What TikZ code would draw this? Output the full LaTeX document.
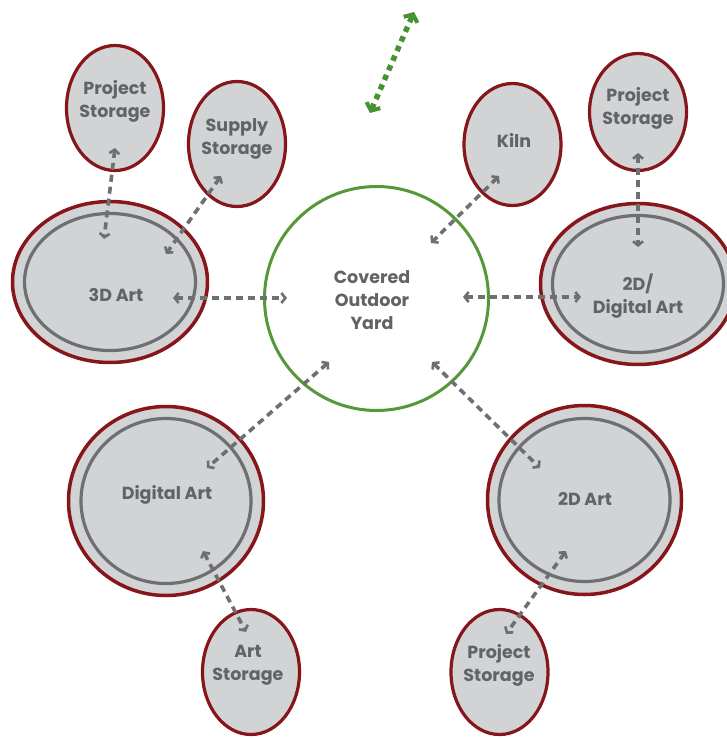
\documentclass[tikz,border=0pt]{standalone}
\usepackage{fontspec}
\setmainfont{Poppins}
\usetikzlibrary{shapes.geometric,arrows.meta}

\definecolor{roomred}{RGB}{134,22,26}
\definecolor{roomfill}{RGB}{209,211,212}
\definecolor{ringgray}{RGB}{110,111,114}
\definecolor{labelgray}{RGB}{98,99,103}
\definecolor{yardgreen}{RGB}{84,152,58}
\definecolor{flowgreen}{RGB}{72,146,52}

\tikzset{
  store/.style={ellipse, draw=roomred, line width=3.2pt, fill=roomfill,
    inner sep=0pt, minimum width=97pt, minimum height=125pt},
  room/.style={ellipse, draw=roomred, line width=3.5pt, fill=roomfill,
    inner sep=0pt},
  ring/.style={ellipse, draw=ringgray, line width=3.2pt, inner sep=0pt},
  yard/.style={circle, draw=yardgreen, line width=3pt, fill=white,
    inner sep=0pt, minimum size=224pt},
  txt/.style={text=labelgray, font=\bfseries\fontsize{17.5}{23}\selectfont,
    align=center, inner sep=0pt},
  link/.style={draw=ringgray, line width=3.6pt, dash pattern=on 7pt off 5pt,
    {Straight Barb[length=4pt,width=10pt,line width=2.6pt]}-{Straight Barb[length=4pt,width=10pt,line width=2.6pt]}},
  flow/.style={draw=flowgreen, line width=5.5pt, dash pattern=on 5.5pt off 5pt,
    {Straight Barb[length=6pt,width=15pt,line width=4pt]}-{Straight Barb[length=6pt,width=15pt,line width=4pt]}}
}

\begin{document}
\begin{tikzpicture}[x=1pt,y=-1pt]
\useasboundingbox (0,0) rectangle (727,738);

% central yard
\node[yard] (yardc) at (376.5,298.5) {};
\node[txt] (yardt) at (372,300) {Covered\\Outdoor\\Yard};

% studios: outer wall and inner ring
\node[room, minimum width=195pt, minimum height=161pt] (art3d) at (110,282) {};
\node[ring, minimum width=171pt, minimum height=137pt] (art3dr) at (110,282) {};
\node[txt] (art3dt) at (116,295) {3D Art};

\node[room, minimum width=195pt, minimum height=161pt] (art2dd) at (638,284) {};
\node[ring, minimum width=171pt, minimum height=137pt] (art2ddr) at (638,284) {};
\node[txt] (art2ddt) at (638,296) {2D/\\Digital Art};

\node[room, minimum width=195pt, minimum height=189pt] (artdig) at (166,501) {};
\node[ring, minimum width=170pt, minimum height=165pt] (artdigr) at (166,501) {};
\node[txt] (artdigt) at (167,495) {Digital Art};

\node[room, minimum width=194pt, minimum height=189pt] (art2d) at (584.5,500) {};
\node[ring, minimum width=171pt, minimum height=163pt] (art2dr) at (584.5,500) {};
\node[txt] (art2dt) at (585,499) {2D Art};

% storage and kiln rooms
\node[store] (psa) at (115,108) {};
\node[txt] (psat) at (115,101) {Project\\Storage};
\node[store] (sup) at (237,144) {};
\node[txt] (supt) at (237,139) {Supply\\Storage};
\node[store, minimum height=122pt] (kiln) at (512.5,144.5) {};
\node[txt] (kilnt) at (514,140) {Kiln};
\node[store, minimum height=117pt] (psb) at (638,112) {};
\node[txt] (psbt) at (638,108) {Project\\Storage};
\node[store] (art) at (251,672) {};
\node[txt] (artt) at (248,665) {Art\\Storage};
\node[store] (psc) at (499.5,672) {};
\node[txt] (psct) at (499,665) {Project\\Storage};

% connector end points
\coordinate (psa-e) at (115,148);
\coordinate (art3d-n) at (104,239);
\coordinate (sup-e) at (221,176);
\coordinate (art3d-ne) at (166,254);
\coordinate (art3d-e) at (173,298);
\coordinate (yard-w) at (287,298);
\coordinate (kiln-e) at (499,176);
\coordinate (yard-ne) at (431,243);
\coordinate (psb-e) at (638,153);
\coordinate (art2dd-n) at (638,247);
\coordinate (yard-e) at (463,297);
\coordinate (art2dd-w) at (581,297);
\coordinate (yard-sw) at (329,362);
\coordinate (artdig-ne) at (207,468);
\coordinate (artdig-s) at (203,551);
\coordinate (art-e) at (246,632);
\coordinate (yard-se) at (432,362);
\coordinate (art2d-nw) at (540,468);
\coordinate (art2d-s) at (566,551);
\coordinate (psc-e) at (506,634);

% two-way paths between rooms
\draw[link] (psa-e) -- (art3d-n);
\draw[link] (sup-e) -- (art3d-ne);
\draw[link] (art3d-e) -- (yard-w);
\draw[link] (kiln-e) -- (yard-ne);
\draw[link] (psb-e) -- (art2dd-n);
\draw[link] (yard-e) -- (art2dd-w);
\draw[link] (yard-sw) -- (artdig-ne);
\draw[link] (artdig-s) -- (art-e);
\draw[link] (yard-se) -- (art2d-nw);
\draw[link] (art2d-s) -- (psc-e);

% outdoor circulation marker
\coordinate (flow-a) at (370,113);
\coordinate (flow-b) at (414,12);
\draw[flow] (flow-a) -- (flow-b);
\end{tikzpicture}
\end{document}
